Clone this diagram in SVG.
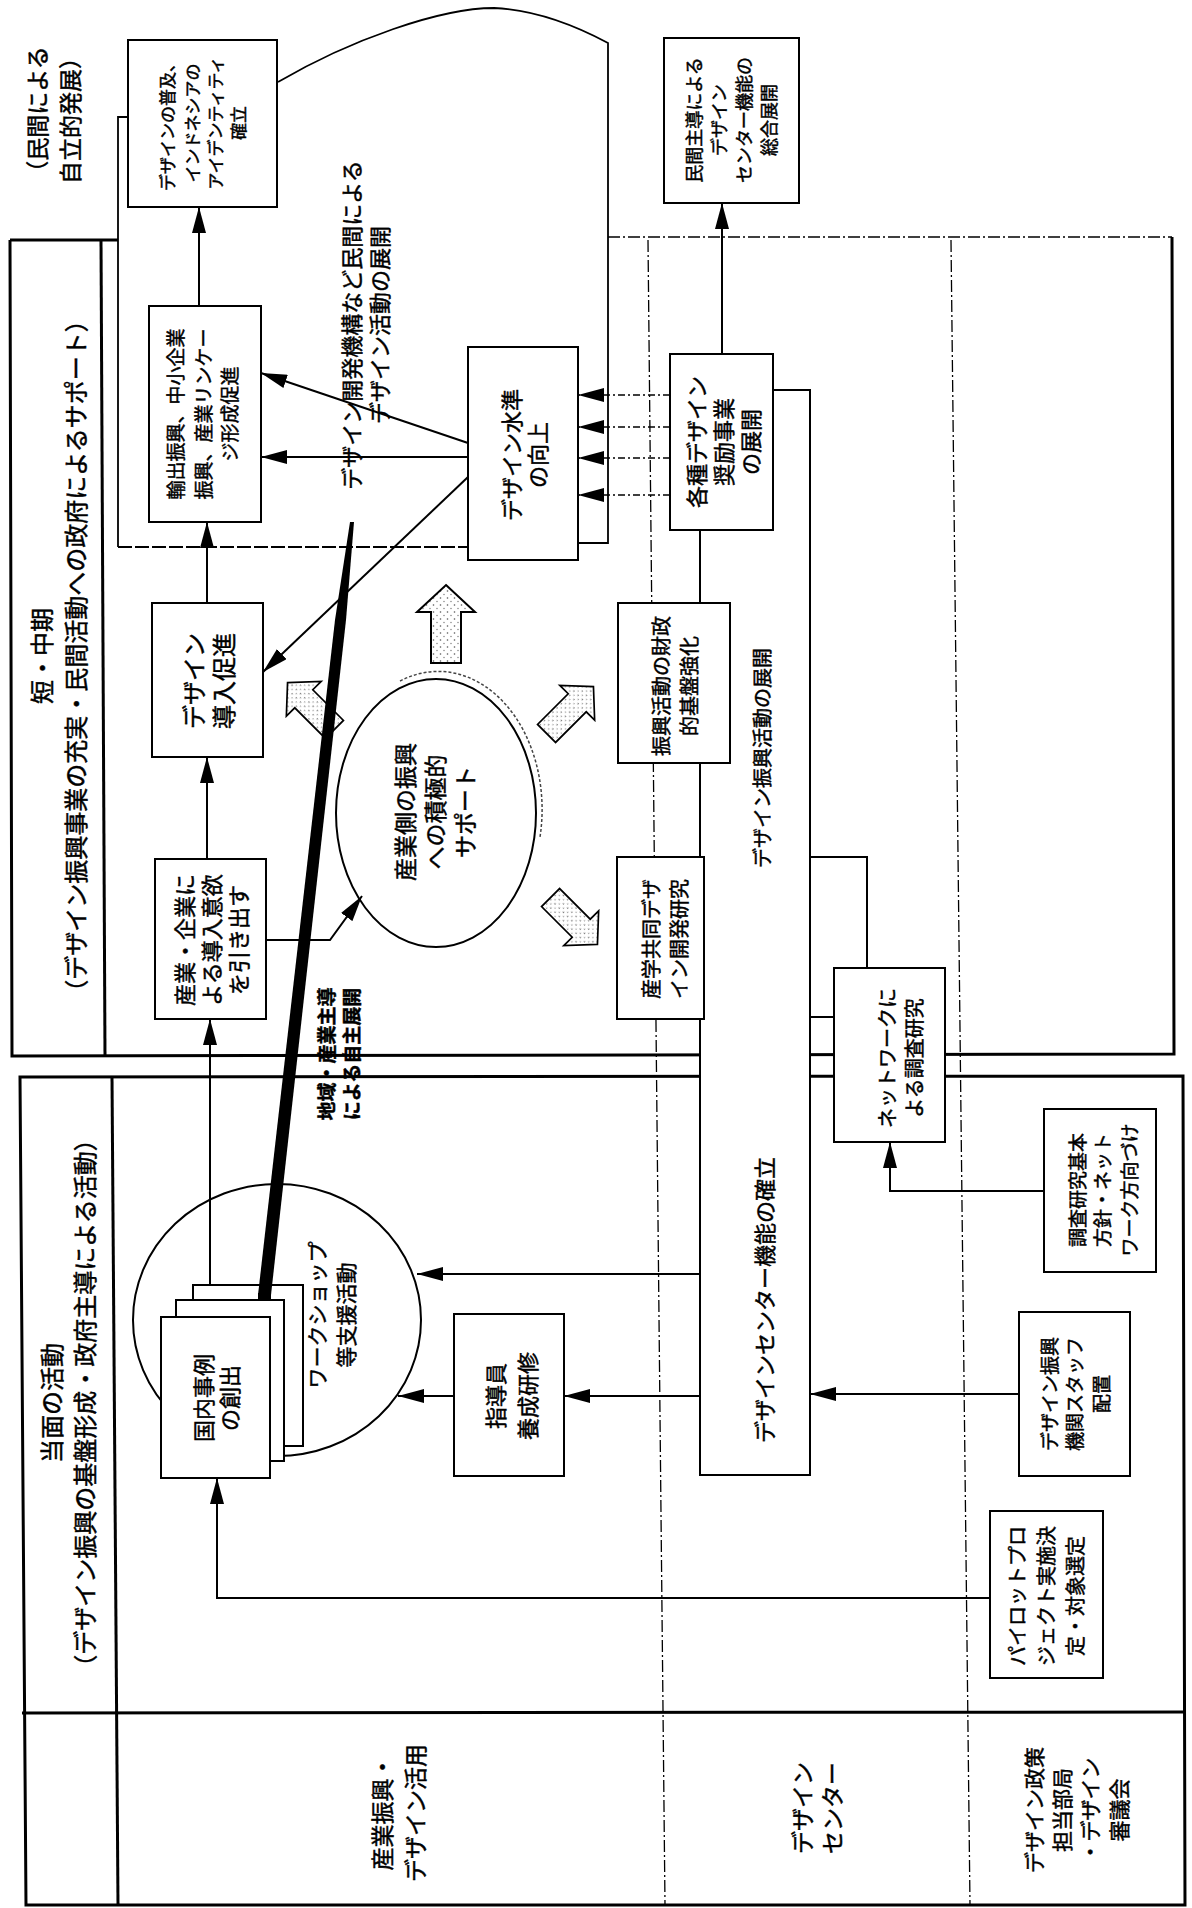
<svg xmlns="http://www.w3.org/2000/svg" width="1192" height="1908" viewBox="0 0 1192 1908">
<defs>
<style>
.bg{fill:#fff}
.box{fill:#fff;stroke:#000;stroke-width:2}
.frame{fill:none;stroke:#000;stroke-width:3}
.reg{fill:none;stroke:#000;stroke-width:1.8}
.dd{fill:none;stroke:#000;stroke-width:1.3;stroke-dasharray:12 3 2 3}
.conn{fill:none;stroke:#000;stroke-width:2}
.dconn{fill:none;stroke:#000;stroke-width:1.6;stroke-dasharray:7 3 2 3}
.arr{marker-end:url(#ah)}
.t{font-family:"Noto Sans CJK JP","Noto Sans CJK SC",sans-serif;text-anchor:middle;dominant-baseline:central;fill:#000;stroke:#000;stroke-width:0.45}
.f17{font-size:17px}.f18{font-size:18px}.f19{font-size:19px}.f20{font-size:20px}.f21{font-size:21px}.f22{font-size:22px}.f23{font-size:23px}.f24{font-size:24px}
.b{font-weight:bold}
.blk{fill:url(#stip);stroke:#000;stroke-width:2}
</style>
<marker id="ah" markerUnits="userSpaceOnUse" markerWidth="27" markerHeight="14" refX="26" refY="7" orient="auto">
<path d="M0,0 L26,7 L0,14 z" fill="#000"/>
</marker>
<pattern id="stip" width="7" height="7" patternUnits="userSpaceOnUse">
<rect width="7" height="7" fill="#fff"/>
<circle cx="1.5" cy="2" r="0.8" fill="#555"/>
<circle cx="5" cy="5.5" r="0.7" fill="#777"/>
</pattern>
<path id="barrow" d="M0,-39 L29,-12 L15,-12 L15,39 L-15,39 L-15,-12 L-29,-12 Z"/>
</defs>
<rect class="bg" x="0" y="0" width="1192" height="1908"/>

<g id="frames">
<path class="frame" d="M10,240 L118,240 M10,240 L12,1056 L1174,1054 L1172,237"/>
<path class="dd" d="M608,237 L1172,237"/>
<path class="frame" d="M101,240 L105,1056"/>
<path class="frame" d="M20,1077 L1183,1076 L1185,1905 L26,1905 Z"/>
<path class="frame" d="M112,1077 L118,1905"/>
<path class="frame" d="M22,1713 L1184,1712"/>
<path class="dd" d="M648,240 L665,1905 M951,240 L970,1905"/>
<path class="reg" d="M128,117 L118,117 L118,547"/>
<path class="reg" stroke-dasharray="14 3" d="M118,547 L468,547"/>
<path class="reg" d="M578,543 L608,543 L608,43 C580,28 540,10 494,8 C440,8 350,40 278,82"/>
</g>

<g id="headers">
<text class="t f23" transform="translate(0,115) rotate(-90)"><tspan x="0" y="36">（民間による</tspan><tspan x="0" y="69">自立的発展）</tspan></text>
<text class="t f24" transform="translate(0,656) rotate(-90)"><tspan x="0" y="40">短・中期</tspan><tspan x="0" y="74">（デザイン振興事業の充実・民間活動への政府によるサポート）</tspan></text>
<text class="t f24" transform="translate(0,1403) rotate(-90)"><tspan x="0" y="50">当面の活動</tspan><tspan x="0" y="83">（デザイン振興の基盤形成・政府主導による活動）</tspan></text>
<text class="t f23" transform="translate(0,1813) rotate(-90)"><tspan x="0" y="381">産業振興・</tspan><tspan x="0" y="414">デザイン活用</tspan></text>
<text class="t f23" transform="translate(0,1808) rotate(-90)"><tspan x="0" y="801">デザイン</tspan><tspan x="0" y="831">センター</tspan></text>
<text class="t f21" transform="translate(0,1810) rotate(-90)"><tspan x="0" y="1033">デザイン政策</tspan><tspan x="0" y="1061">担当部局</tspan><tspan x="0" y="1089">・デザイン</tspan><tspan x="0" y="1118">審議会</tspan></text>
</g>

<g id="n-center-column">
<rect class="box" x="700" y="390" width="110" height="1085"/>
<text class="t f20" transform="translate(0,758) rotate(-90)"><tspan x="0" y="761">デザイン振興活動の展開</tspan></text>
<text class="t f22" transform="translate(0,1300) rotate(-90)"><tspan x="0" y="763">デザインセンター機能の確立</tspan></text>
</g>
<g id="n-tab"><rect class="box" x="810" y="857" width="57" height="160"/></g>

<g id="n-A">
<rect class="box" x="128" y="40" width="149" height="167"/>
<text class="t f17" transform="translate(0,123) rotate(-90)"><tspan x="0" y="166">デザインの普及、</tspan><tspan x="0" y="191">インドネシアの</tspan><tspan x="0" y="214">アイデンティティ</tspan><tspan x="0" y="237">確立</tspan></text>
</g>
<g id="n-B">
<rect class="box" x="664" y="38" width="135" height="165"/>
<text class="t f18" transform="translate(0,120) rotate(-90)"><tspan x="0" y="693">民間主導による</tspan><tspan x="0" y="718">デザイン</tspan><tspan x="0" y="743">センター機能の</tspan><tspan x="0" y="768">総合展開</tspan></text>
</g>
<g id="n-C">
<rect class="box" x="149" y="306" width="112" height="216"/>
<text class="t f19" transform="translate(0,414) rotate(-90)"><tspan x="0" y="174">輸出振興、中小企業</tspan><tspan x="0" y="202">振興、産業リンケー</tspan><tspan x="0" y="228">ジ形成促進</tspan></text>
</g>
<g id="n-D">
<rect class="box" x="468" y="347" width="110" height="213"/>
<text class="t f22" transform="translate(0,455) rotate(-90)"><tspan x="0" y="510">デザイン水準</tspan><tspan x="0" y="536">の向上</tspan></text>
</g>
<g id="n-E">
<rect class="box" x="152" y="603" width="111" height="154"/>
<text class="t f24" transform="translate(0,681) rotate(-90)"><tspan x="0" y="192">デザイン</tspan><tspan x="0" y="222">導入促進</tspan></text>
</g>
<g id="n-F">
<rect class="box" x="155" y="859" width="111" height="160"/>
<text class="t f22" transform="translate(0,940) rotate(-90)"><tspan x="0" y="183">産業・企業に</tspan><tspan x="0" y="210">よる導入意欲</tspan><tspan x="0" y="237">を引き出す</tspan></text>
</g>
<g id="n-G">
<ellipse class="box" cx="436" cy="813" rx="100" ry="134"/>
<path d="M400,681 A104,138 0 0,1 540,837" fill="none" stroke="#444" stroke-width="1.5" stroke-dasharray="3 2"/>
<text class="t f23" transform="translate(0,812) rotate(-90)"><tspan x="0" y="404">産業側の振興</tspan><tspan x="0" y="434">への積極的</tspan><tspan x="0" y="464">サポート</tspan></text>
</g>
<g id="n-H">
<rect class="box" x="618" y="603" width="112" height="160"/>
<text class="t f20" transform="translate(0,686) rotate(-90)"><tspan x="0" y="660">振興活動の財政</tspan><tspan x="0" y="688">的基盤強化</tspan></text>
</g>
<g id="n-I">
<rect class="box" x="617" y="857" width="87" height="162"/>
<text class="t f20" transform="translate(0,939) rotate(-90)"><tspan x="0" y="650">産学共同デザ</tspan><tspan x="0" y="678">イン開発研究</tspan></text>
</g>
<g id="n-J">
<rect class="box" x="670" y="354" width="103" height="176"/>
<text class="t f22" transform="translate(0,442) rotate(-90)"><tspan x="0" y="695">各種デザイン</tspan><tspan x="0" y="722">奨励事業</tspan><tspan x="0" y="749">の展開</tspan></text>
</g>
<g id="n-R">
<rect class="box" x="834" y="968" width="111" height="174"/>
<text class="t f20" transform="translate(0,1058) rotate(-90)"><tspan x="0" y="886">ネットワークに</tspan><tspan x="0" y="913">よる調査研究</tspan></text>
</g>
<g id="n-S">
<rect class="box" x="1044" y="1109" width="112" height="163"/>
<text class="t f19" transform="translate(0,1190) rotate(-90)"><tspan x="0" y="1076">調査研究基本</tspan><tspan x="0" y="1101">方針・ネット</tspan><tspan x="0" y="1128">ワーク方向づけ</tspan></text>
</g>
<g id="n-P">
<rect class="box" x="1019" y="1312" width="111" height="164"/>
<text class="t f19" transform="translate(0,1394) rotate(-90)"><tspan x="0" y="1048">デザイン振興</tspan><tspan x="0" y="1073">機関スタッフ</tspan><tspan x="0" y="1100">配置</tspan></text>
</g>
<g id="n-Q">
<rect class="box" x="990" y="1511" width="113" height="167"/>
<text class="t f20" transform="translate(0,1596) rotate(-90)"><tspan x="0" y="1016">パイロットプロ</tspan><tspan x="0" y="1045">ジェクト実施決</tspan><tspan x="0" y="1074">定・対象選定</tspan></text>
</g>
<g id="n-N">
<rect class="box" x="454" y="1314" width="110" height="162"/>
<text class="t f22" transform="translate(0,1396) rotate(-90)"><tspan x="0" y="494">指導員</tspan><tspan x="0" y="526">養成研修</tspan></text>
</g>
<g id="n-M">
<ellipse class="box" cx="277" cy="1320" rx="144" ry="136"/>
<text class="t f21" transform="translate(0,1315) rotate(-90)"><tspan x="0" y="316">ワークショップ</tspan><tspan x="0" y="345">等支援活動</tspan></text>
</g>
<g id="n-K">
<rect class="box" x="193" y="1285" width="110" height="161"/>
<polygon points="258,1293 271,1293 271,1300 258,1300" fill="#000"/>
<rect class="box" x="176" y="1300" width="108" height="161"/>
<rect class="box" x="161" y="1317" width="109" height="161"/>
<text class="t f22" transform="translate(0,1398) rotate(-90)"><tspan x="0" y="202">国内事例</tspan><tspan x="0" y="228">の創出</tspan></text>
</g>

<g id="block-arrows">
<use href="#barrow" class="blk" transform="translate(446,624)"/>
<use href="#barrow" class="blk" transform="translate(311,706) rotate(-45) scale(0.85)"/>
<use href="#barrow" class="blk" transform="translate(570,710) rotate(45) scale(0.85)"/>
<use href="#barrow" class="blk" transform="translate(574,921) rotate(135) scale(0.85)"/>
</g>

<g id="connectors">
<polygon points="258,1295 271,1295 346,620 354,522 350,522 335,620" fill="#000"/>
<path class="conn arr" d="M199,306 L199,207"/>
<path class="conn arr" d="M722,354 L722,203"/>
<path class="conn arr" d="M207,603 L207,522"/>
<path class="conn arr" d="M207,859 L207,757"/>
<path class="conn arr" d="M210,1285 L210,1019"/>
<path class="conn arr" d="M468,457 L261,457"/>
<path class="conn arr" d="M468,443 L261,373"/>
<path class="conn arr" d="M468,477 L263,672"/>
<path class="dconn arr" d="M670,395 L578,395"/>
<path class="dconn arr" d="M670,427 L578,427"/>
<path class="dconn arr" d="M670,458 L578,458"/>
<path class="dconn arr" d="M670,495 L578,495"/>
<path class="conn arr" d="M266,940 L330,940 L362,896"/>
<path class="conn arr" d="M454,1396 L398,1396"/>
<path class="conn arr" d="M700,1396 L564,1396"/>
<path class="conn arr" d="M700,1274 L417,1274"/>
<path class="conn arr" d="M1019,1394 L810,1394"/>
<path class="conn arr" d="M990,1598 L217,1598 L217,1478"/>
<path class="conn arr" d="M1044,1191 L890,1191 L890,1142"/>
</g>

<g id="labels">
<text class="t f22" transform="translate(0,325) rotate(-90)"><tspan x="0" y="350">デザイン開発機構など民間による</tspan><tspan x="0" y="378">デザイン活動の展開</tspan></text>
<text class="t f19 b" transform="translate(0,1054) rotate(-90)"><tspan x="0" y="325">地域・産業主導</tspan><tspan x="0" y="350">による自主展開</tspan></text>
</g>
</svg>
